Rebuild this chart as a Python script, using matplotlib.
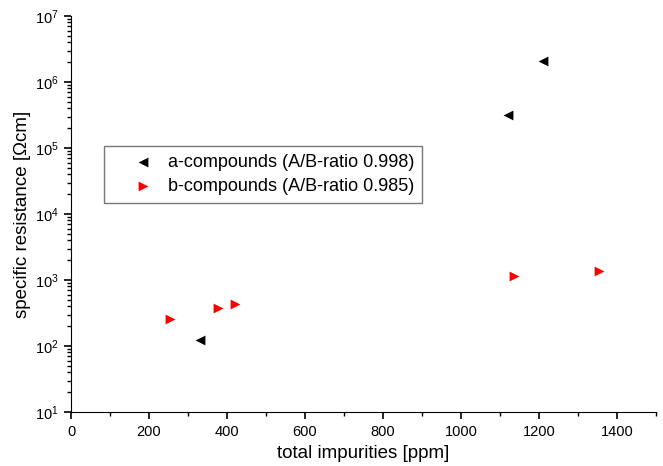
import numpy as np
import matplotlib.pyplot as plt
from matplotlib.ticker import MultipleLocator, FixedLocator, NullFormatter
from matplotlib.legend_handler import HandlerPathCollection

# a-compounds (A/B-ratio 0.998)
a_ppm = [330, 1120, 1210]
a_res = [125, 3.2e5, 2.05e6]

# b-compounds (A/B-ratio 0.985)
b_ppm = [254, 377, 420, 1135, 1355]
b_res = [255, 380, 430, 1150, 1380]

x_ticks = [0, 200, 400, 600, 800, 1000, 1200, 1400]
y_decades = [1, 2, 3, 4, 5, 6, 7]

plt.rcParams.update({'font.family': 'Liberation Sans', 'font.size': 10})

fig = plt.figure(figsize=(6.63, 4.66), dpi=100)
ax = fig.add_axes([71/663, 54/466, 585/663, 396/466])

sc_a = ax.scatter(a_ppm, a_res, marker='<', s=50, color='black', linewidths=0,
                  label='a-compounds (A/B-ratio 0.998)', clip_on=False)
ax.scatter(b_ppm, b_res, marker='>', s=50, color='red', linewidths=0,
           label='b-compounds (A/B-ratio 0.985)', clip_on=False)

ax.set_xlabel('total impurities [ppm]', fontsize=13.5, labelpad=5)
ax.set_ylabel('specific resistance [Ωcm]', fontsize=13.5, labelpad=3)

leg = ax.legend(loc='upper left', bbox_to_anchor=(0.056, 0.672), frameon=True,
                fancybox=False, edgecolor='#555555', fontsize=13,
                handlelength=2.6, handletextpad=0.5, borderpad=0.45,
                labelspacing=0.38, borderaxespad=0,
                handler_map={type(sc_a): HandlerPathCollection(xpad=0.85)})
leg.get_frame().set_linewidth(1.0)

ax.spines['top'].set_visible(False)
ax.spines['right'].set_visible(False)

# scale and ticks last
ax.set_yscale('log')
ax.set_xlim(0, 1500)
ax.set_ylim(10, 1e7)
ax.set_xticks(x_ticks)
ax.xaxis.set_minor_locator(MultipleLocator(100))
ax.set_yticks([10.0 ** d for d in y_decades])
minor = [m * 10.0 ** d for d in y_decades[:-1] for m in range(2, 10)]
ax.yaxis.set_minor_locator(FixedLocator(minor))
ax.yaxis.set_minor_formatter(NullFormatter())
ax.tick_params(which='major', length=5, width=1.2, labelsize=10.5, pad=4)
ax.tick_params(which='minor', length=3, width=1.0)
ax.yaxis.set_tick_params(which='minor', left=True, length=3, width=1.0)

fig.savefig('out.png', dpi=100)
